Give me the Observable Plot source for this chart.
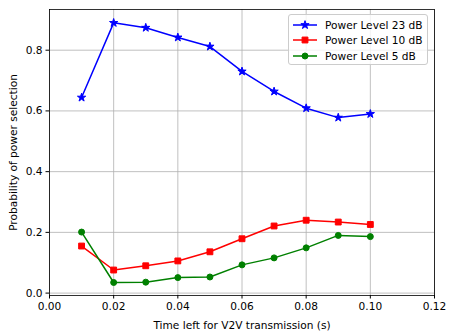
<!DOCTYPE html>
<html>
<head>
<meta charset="utf-8">
<script src="https://cdn.jsdelivr.net/npm/d3@7"></script>
<script src="https://cdn.jsdelivr.net/npm/@observablehq/plot@0.6"></script>
<style>
  html, body { margin: 0; padding: 0; background: white; }
  #wrap { position: relative; width: 451px; height: 333px; font-family: "DejaVu Sans", sans-serif; }
  #legend { position: absolute; left: 288px; top: 14px; width: 140px; height: 51px;
    border: 1px solid #cccccc; border-radius: 3px; background: rgba(255,255,255,0.8);
    font-size: 10.6px; color: #000; box-sizing: border-box; padding-top: 2px; }
  .row { display: flex; align-items: center; height: 15.6px; }
  .row svg { margin-left: 4px; margin-right: 8px; }
</style>
</head>
<body>
<div id="wrap"></div>
<script>
// ---- data ----
const times = [0.01, 0.02, 0.03, 0.04, 0.05, 0.06, 0.07, 0.08, 0.09, 0.10];
const level23 = [0.644, 0.890, 0.874, 0.842, 0.812, 0.730, 0.664, 0.609, 0.578, 0.590];
const level10 = [0.155, 0.076, 0.090, 0.106, 0.136, 0.179, 0.221, 0.240, 0.234, 0.226];
const level5  = [0.201, 0.035, 0.036, 0.051, 0.053, 0.093, 0.116, 0.149, 0.190, 0.186];
const seriesNames = ["Power Level 23 dB", "Power Level 10 dB", "Power Level 5 dB"];
const seriesColors = ["#0000ff", "#ff0000", "#008000"];
const seriesSymbols = ["star", "square", "circle"];
const seriesR = [2.6, 3.3, 3.0];
const xTicks = [0, 0.02, 0.04, 0.06, 0.08, 0.10, 0.12];
const yTicks = [0, 0.2, 0.4, 0.6, 0.8];
const xLabel = "Time left for V2V transmission (s)";
const yLabel = "Probability of power selection";

const seriesValues = [level23, level10, level5];
const rows = seriesValues.flatMap((vals, i) =>
  vals.map((v, j) => ({t: times[j], p: v, s: seriesNames[i]})));

const marks = [
  Plot.gridX(xTicks, {stroke: "#b0b0b0", strokeOpacity: 1, strokeWidth: 0.8}),
  Plot.gridY(yTicks, {stroke: "#b0b0b0", strokeOpacity: 1, strokeWidth: 0.8}),
  Plot.axisX(xTicks, {tickSize: 3.5, tickPadding: 3.5, tickFormat: d3.format(".2f"),
    label: xLabel, labelAnchor: "center", labelOffset: 33, labelArrow: "none", fontSize: 10.6}),
  Plot.axisY(yTicks, {tickSize: 3.5, tickPadding: 3.5, tickFormat: d3.format(".1f"),
    label: yLabel, labelAnchor: "center", labelOffset: 40, labelArrow: "none", fontSize: 10.6})
];
seriesNames.forEach((name, i) => {
  const d = rows.filter(r => r.s === name);
  marks.push(Plot.line(d, {x: "t", y: "p", stroke: seriesColors[i], strokeWidth: 1.5}));
  marks.push(Plot.dot(d, {x: "t", y: "p", symbol: () => seriesSymbols[i], r: seriesR[i],
    fill: seriesColors[i], stroke: seriesColors[i], strokeWidth: 1}));
});
marks.push(Plot.frame({stroke: "#000", strokeWidth: 0.8}));

const chart = Plot.plot({
  width: 451, height: 333,
  marginLeft: 49, marginRight: 17, marginTop: 9, marginBottom: 38,
  style: {fontFamily: "DejaVu Sans", fontSize: "10.6px", background: "white", color: "#000"},
  x: {domain: [0, 0.12]},
  y: {domain: [-0.0079, 0.934]},
  symbol: {type: "identity"},
  marks
});
const wrap = document.getElementById("wrap");
wrap.appendChild(chart);

// legend
const legend = document.createElement("div");
legend.id = "legend";
seriesNames.forEach((name, i) => {
  const row = document.createElement("div");
  row.className = "row";
  const svg = d3.create("svg").attr("width", 24).attr("height", 12);
  svg.append("line").attr("x1", 0).attr("x2", 24).attr("y1", 6).attr("y2", 6)
    .attr("stroke", seriesColors[i]).attr("stroke-width", 1.5);
  const symType = {star: d3.symbolStar, square: d3.symbolSquare, circle: d3.symbolCircle}[seriesSymbols[i]];
  svg.append("path").attr("transform", "translate(12,6)")
    .attr("d", d3.symbol(symType, Math.PI * seriesR[i] * seriesR[i])())
    .attr("fill", seriesColors[i]).attr("stroke", seriesColors[i]).attr("stroke-width", 1);
  row.appendChild(svg.node());
  const span = document.createElement("span");
  span.textContent = name;
  row.appendChild(span);
  legend.appendChild(row);
});
wrap.appendChild(legend);
</script>
</body>
</html>
